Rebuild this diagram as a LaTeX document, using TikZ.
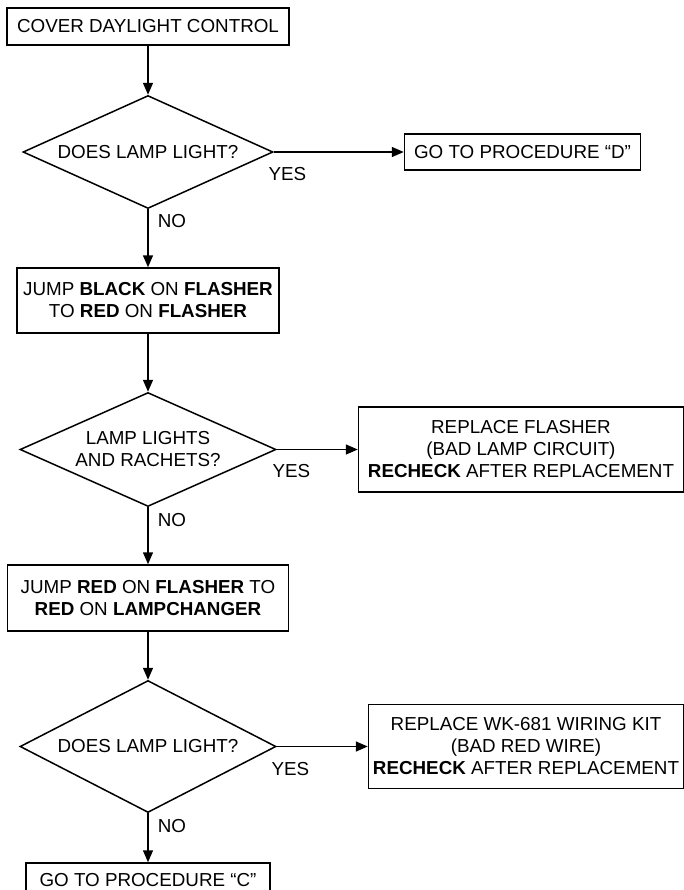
\documentclass[tikz,border=0pt]{standalone}
\usepackage{fontspec}
\setmainfont{Liberation Sans}
\usetikzlibrary{arrows.meta,positioning,shapes.geometric}

\begin{document}
\begin{tikzpicture}[
  font=\fontsize{9.4pt}{11pt}\selectfont,
  line width=0.75pt,
  box/.style={rectangle, draw, inner sep=2pt, align=center},
  decision/.style={diamond, draw, inner sep=0pt, align=center, aspect=2.2},
  answer/.style={inner sep=0pt},
  arrow/.style={-{Triangle[length=6pt, width=5pt]}}
]

\useasboundingbox (0,0) rectangle (342pt,-445pt);

% Start
\node[box, minimum width=141pt, minimum height=18.5pt] (cover) at (74pt,-13.25pt) {COVER DAYLIGHT CONTROL};

% First check
\node[decision, minimum width=125pt, minimum height=56.5pt, below=24.5pt of cover] (lamp1) {DOES LAMP LIGHT?};
\node[box, minimum width=118pt, minimum height=18pt, right=65pt of lamp1] (procD) {GO TO PROCEDURE “D”};

% Jump black to red
\node[box, minimum width=131pt, minimum height=32.5pt, below=29pt of lamp1] (jumpblack) {JUMP \textbf{BLACK} ON \textbf{FLASHER}\\TO \textbf{RED} ON \textbf{FLASHER}};

% Second check
\node[decision, aspect=2.25, minimum width=128pt, minimum height=57pt, below=29pt of jumpblack] (rachet) {LAMP LIGHTS\\AND RACHETS?};
\node[box, minimum width=162.5pt, minimum height=42.5pt, right=40.5pt of rachet] (flasher) {REPLACE FLASHER\\(BAD LAMP CIRCUIT)\\\textbf{RECHECK} AFTER REPLACEMENT};

% Jump red to lampchanger
\node[box, minimum width=140.5pt, minimum height=33pt, below=28.5pt of rachet] (jumpred) {JUMP \textbf{RED} ON \textbf{FLASHER} TO\\\textbf{RED} ON \textbf{LAMPCHANGER}};

% Third check
\node[decision, aspect=1.94, minimum width=128pt, minimum height=66pt, below=24pt of jumpred] (lamp2) {DOES LAMP LIGHT?};
\node[box, minimum width=157.5pt, minimum height=42pt, right=45.5pt of lamp2] (wiring) {REPLACE WK-681 WIRING KIT\\(BAD RED WIRE)\\\textbf{RECHECK} AFTER REPLACEMENT};

% End
\node[box, minimum width=122pt, minimum height=17pt, below=24.5pt of lamp2] (procC) {GO TO PROCEDURE “C”};

% Answers
\node[answer, anchor=west] (yes1) at ([shift={(-3pt,-11pt)}]lamp1.east) {YES};
\node[answer, anchor=west] (no1) at ([shift={(4.5pt,-6pt)}]lamp1.south) {NO};
\node[answer, anchor=west] (yes2) at ([shift={(-2.5pt,-11pt)}]rachet.east) {YES};
\node[answer, anchor=west] (no2) at ([shift={(4.5pt,-6.5pt)}]rachet.south) {NO};
\node[answer, anchor=west] (yes3) at ([shift={(-3pt,-11.5pt)}]lamp2.east) {YES};
\node[answer, anchor=west] (no3) at ([shift={(4.5pt,-6.5pt)}]lamp2.south) {NO};

% Arrows
\draw[arrow] (cover) -- (lamp1);
\draw[arrow] (lamp1) -- (procD);
\draw[arrow] (lamp1) -- (jumpblack);
\draw[arrow] (jumpblack) -- (rachet);
\draw[arrow] (rachet) -- (flasher);
\draw[arrow] (rachet) -- (jumpred);
\draw[arrow] (jumpred) -- (lamp2);
\draw[arrow] (lamp2) -- (wiring);
\draw[arrow] (lamp2) -- (procC);

\end{tikzpicture}
\end{document}
